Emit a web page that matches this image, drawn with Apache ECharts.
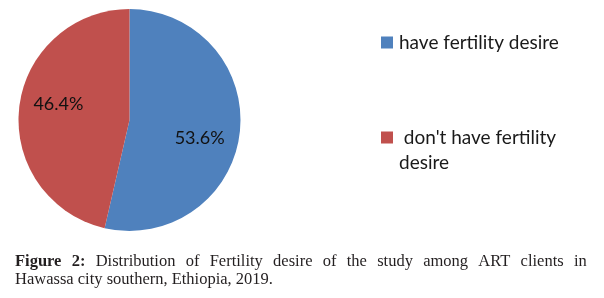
<!DOCTYPE html>
<html>
<head>
<meta charset="utf-8">
<script src="https://cdn.jsdelivr.net/npm/echarts@6/dist/echarts.min.js"></script>
<style>
html,body{margin:0;padding:0;background:#fff;}
#chart{width:604px;height:298px;}
</style>
</head>
<body>
<div id="chart"></div>
<script>
const categories = ['have fertility desire', " don't have fertility\ndesire"];
const values = [53.6, 46.4];
const colors = ['#4F81BD', '#C0504D'];
const captionBold = 'Figure 2:';
const captionLine1 = 'Distribution of Fertility desire of the study among ART clients in';
const captionLine2 = 'Hawassa city southern, Ethiopia, 2019.';

const labelShift = [[12, 12], [-13, -9]];

const chart = echarts.init(document.getElementById('chart'), null, {renderer: 'canvas'});
const serif = 'Liberation Serif';
const capColor = '#231f20';
// justified first line: words joined by widened spaces
const boldWords = captionBold.split(' ').map(w => '{b|' + w + '}');
const normWords = captionLine1.split(' ').map(w => '{n|' + w + '}');
const line1 = boldWords.concat(normWords).join('{s| }');
const option = {
  animation: false,
  color: colors,
  title: {
    left: 15,
    top: 252,
    padding: 0,
    text: line1 + '\n{n|' + captionLine2 + '}',
    textStyle: {
      fontFamily: serif,
      fontSize: 16.5,
      fontWeight: 'normal',
      color: capColor,
      lineHeight: 18.5,
      rich: {
        b: {fontFamily: serif, fontSize: 16.5, fontWeight: 'bold', color: capColor, lineHeight: 18.5},
        n: {fontFamily: serif, fontSize: 16.5, color: capColor, lineHeight: 18.5},
        s: {fontFamily: serif, fontSize: 41, color: capColor, lineHeight: 18.5}
      }
    }
  },
  legend: [
    {
      orient: 'vertical',
      left: 381,
      top: 33,
      padding: 0,
      itemWidth: 12,
      itemHeight: 12,
      itemGap: 0,
      icon: 'rect',
      data: [categories[0]],
      textStyle: {fontFamily: 'Lato', fontSize: 19, color: '#1a1a1a', padding: [0, 0, 0, 1]}
    },
    {
      orient: 'vertical',
      left: 381,
      top: 100,
      padding: 0,
      itemWidth: 12,
      itemHeight: 12,
      itemGap: 0,
      icon: 'rect',
      data: [categories[1]],
      formatter: name => '\n' + name,
      textStyle: {fontFamily: 'Lato', fontSize: 19, color: '#1a1a1a', lineHeight: 25, padding: [0, 0, 0, 1]}
    }
  ],
  series: [{
    type: 'pie',
    center: [129.5, 120],
    radius: 111,
    startAngle: 90,
    clockwise: true,
    silent: true,
    label: {
      show: true,
      position: 'inside',
      formatter: p => p.value.toFixed(1) + '%',
      fontFamily: 'Lato',
      fontSize: 18,
      color: '#111'
    },
    labelLine: {show: false},
    labelLayout: function (params) {
      const s = labelShift[params.dataIndex];
      return {dx: s[0], dy: s[1]};
    },
    itemStyle: {borderWidth: 0},
    data: categories.map((c, i) => ({name: c, value: values[i]}))
  }]
};
chart.setOption(option);
</script>
</body>
</html>
